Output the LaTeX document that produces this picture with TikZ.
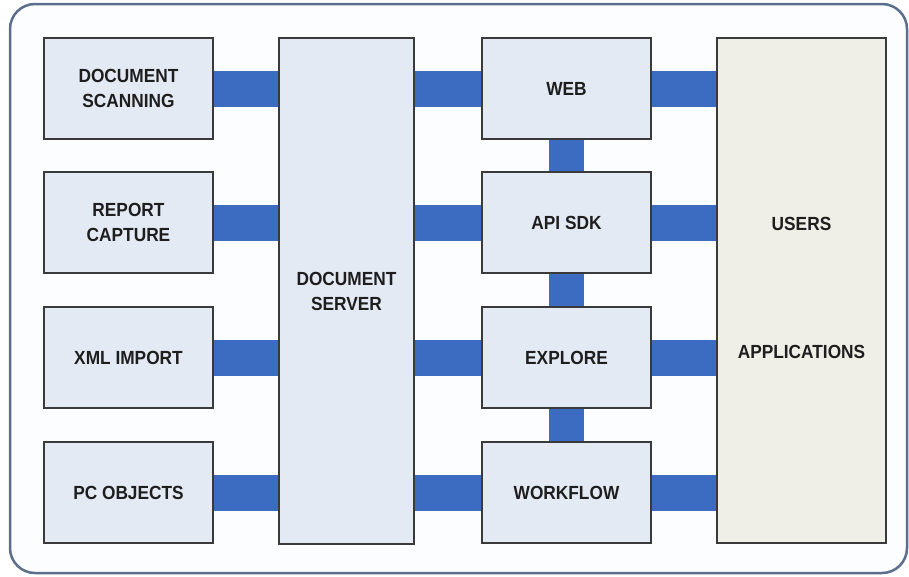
\documentclass[tikz,border=0pt]{standalone}
\usepackage{fontspec}
\newfontfamily\boxfont[FakeStretch=0.91]{Liberation Sans}
\definecolor{connblue}{HTML}{3B6CC2}
\definecolor{boxfill}{HTML}{E4EAF4}
\definecolor{userfill}{HTML}{EFEFE7}
\definecolor{boxline}{HTML}{3A3A3A}
\definecolor{frameline}{HTML}{5B6F8C}
\definecolor{framefill}{HTML}{FCFDFE}
\definecolor{txt}{HTML}{1E1E1E}
\tikzset{
  blk/.style={draw=boxline, line width=2pt, fill=boxfill, minimum width=169pt, minimum height=101pt, inner sep=0pt, align=center, text=txt, font=\boxfont\fontsize{19}{25}\selectfont\bfseries},
  conn/.style={draw=connblue, line width=36pt},
}
\begin{document}
\begin{tikzpicture}[x=1pt,y=-1pt]
\useasboundingbox (0,0) rectangle (909,576);
\draw[frameline, line width=2.5pt, fill=framefill, rounded corners=25pt] (10,4) rectangle (907,573);
% boxes
\node[blk] (ds) at (128.5,88.5) {DOCUMENT\\SCANNING};
\node[blk] (rc) at (128.5,222.5) {REPORT\\CAPTURE};
\node[blk] (xi) at (128.5,357.5) {XML IMPORT};
\node[blk] (pc) at (128.5,492.5) {PC OBJECTS};
\node[blk, minimum width=135pt, minimum height=506pt] (srv) at (346.5,291) {DOCUMENT\\SERVER};
\node[blk] (web) at (566.5,88.5) {WEB};
\node[blk] (api) at (566.5,222.5) {API SDK};
\node[blk] (exp) at (566.5,357.5) {EXPLORE};
\node[blk] (wf) at (566.5,492.5) {WORKFLOW};
\node[blk, fill=userfill, minimum width=169pt, minimum height=505pt] (usr) at (801.5,290.5) {};
\node[font=\boxfont\fontsize{19}{25}\selectfont\bfseries, text=txt] (usrt) at (801.5,224) {USERS};
\node[font=\boxfont\fontsize{19}{25}\selectfont\bfseries, text=txt] (appt) at (801.5,352) {APPLICATIONS};
% connectors
\foreach \a in {ds,rc,xi,pc} {\draw[conn] (\a.east) -- (srv.west |- \a.east);}
\foreach \a in {web,api,exp,wf} {
  \draw[conn] (srv.east |- \a.west) -- (\a.west);
  \draw[conn] (\a.east) -- (usr.west |- \a.east);
}
\draw[conn, line width=35pt] (web.south) -- (api.north);
\draw[conn, line width=35pt] (api.south) -- (exp.north);
\draw[conn, line width=35pt] (exp.south) -- (wf.north);
\end{tikzpicture}
\end{document}
